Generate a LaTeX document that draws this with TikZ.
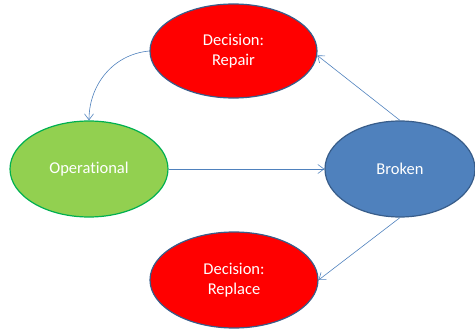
\documentclass[tikz,border=0pt]{standalone}
\usepackage{fontspec}
\setmainfont[Ligatures=NoCommon]{Carlito}
\usetikzlibrary{shapes.geometric,arrows.meta}
\definecolor{rd}{HTML}{FF0000}
\definecolor{gr}{HTML}{92D050}
\definecolor{grb}{HTML}{00B050}
\definecolor{bl}{HTML}{4F81BD}
\definecolor{blb}{HTML}{385D8A}
\tikzset{
  st/.style={ellipse, minimum width=#1, text=white, font=\fontsize{16.5}{20}\selectfont, align=center, line width=1.2pt, inner sep=0pt},
  con/.style={draw=bl, line width=0.6pt, -{Straight Barb[length=6pt,width=9pt]}}
}
\begin{document}
\begin{tikzpicture}[x=1pt,y=1pt]
\useasboundingbox (0,0) rectangle (475,333);
\node[st=167pt, minimum height=94pt, fill=rd, draw=blb] (rep) at (233.5,282) {Decision:\\Repair};
\node[st=158pt, minimum height=96pt, fill=gr, draw=grb] (op) at (89,164) {Operational};
\node[st=150pt, minimum height=96pt, fill=bl, draw=blb] (br) at (400,164) {Broken};
\node[st=168pt, minimum height=96pt, fill=rd, draw=blb] (rpl) at (234,53) {Decision:\\Replace};
\draw[con] (rep.west) to[out=185, in=90] (op.north);
\draw[con] (op.east) -- (br.west);
\draw[con] (br.north) -- (rep.-3);
\draw[con] (br.south) -- (rpl.east);
\end{tikzpicture}
\end{document}
